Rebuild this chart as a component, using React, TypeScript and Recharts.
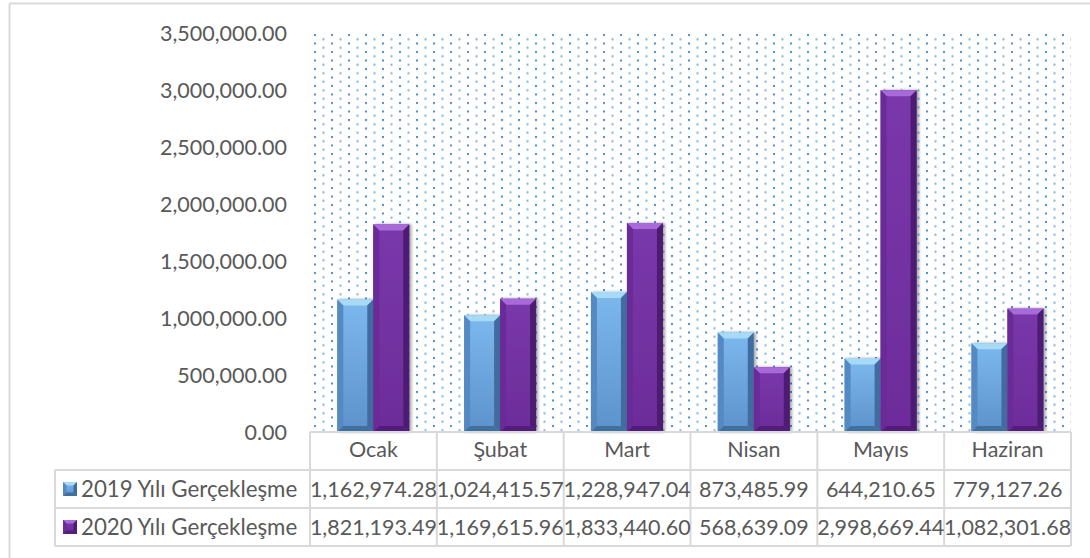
import React from "react";
import { BarChart, Bar, XAxis, YAxis, CartesianGrid } from "recharts";

const months = ["Ocak", "Şubat", "Mart", "Nisan", "Mayıs", "Haziran"];
const values2019 = [1162974.28, 1024415.57, 1228947.04, 873485.99, 644210.65, 779127.26];
const values2020 = [1821193.49, 1169615.96, 1833440.6, 568639.09, 2998669.44, 1082301.68];
const seriesNames = ["2019 Yılı Gerçekleşme", "2020 Yılı Gerçekleşme"];
const yTicks = [0, 500000, 1000000, 1500000, 2000000, 2500000, 3000000, 3500000];

const data = months.map((m, i) => ({ month: m, y2019: values2019[i], y2020: values2020[i] }));

// layout
const W = 1090;
const H = 558;
const PLOT_LEFT = 310;
const PLOT_RIGHT = 1071;
const PLOT_TOP = 33;
const PLOT_BOTTOM = 432;
const ROW_H = 38;
const XAXIS_H = 38;
const FONT = "Lato, 'Open Sans', sans-serif";
const FS = 21.5;
const TEXT = "#595959";
const LINE = "#d9d9d9";

const PALETTES = [
  { top: "#a6daf7", face1: "#7cb8ee", face2: "#5d92cb", left: "#5489c2", right: "#3f6c9e", bottom: "#416f9f" },
  { top: "#a86ad9", face1: "#7a38aa", face2: "#6c2c9a", left: "#6a2c98", right: "#4c1d72", bottom: "#531f7c" },
];

const fmt = (v: number) =>
  v.toLocaleString("en-US", { minimumFractionDigits: 2, maximumFractionDigits: 2 });

function bevel(x: number, y: number, w: number, h: number, p: any, gid: string, b0: number) {
  const b = Math.max(0, Math.min(b0, w / 4, h / 2));
  return (
    <g>
      <rect x={x} y={y} width={w} height={h} fill={`url(#${gid})`} />
      <polygon points={`${x},${y} ${x + w},${y} ${x + w - b},${y + b} ${x + b},${y + b}`} fill={p.top} />
      <polygon points={`${x},${y} ${x + b},${y + b} ${x + b},${y + h - b} ${x},${y + h}`} fill={p.left} />
      <polygon points={`${x + w},${y} ${x + w},${y + h} ${x + w - b},${y + h - b} ${x + w - b},${y + b}`} fill={p.right} />
      <polygon points={`${x},${y + h} ${x + b},${y + h - b} ${x + w - b},${y + h - b} ${x + w},${y + h}`} fill={p.bottom} />
    </g>
  );
}

const makeShape = (idx: number) => (props: any) => {
  const { x, y, width, height } = props;
  if (!height || height <= 0) return <g />;
  return (
    <g filter="url(#barShadow)">{bevel(x, y, width, height, PALETTES[idx], `face${idx}`, 6)}</g>
  );
};

export default function App() {
  const colW = (PLOT_RIGHT - PLOT_LEFT) / months.length;
  const series = [values2019, values2020];

  return (
    <div style={{ position: "relative", width: W, height: H, background: "#fff" }}>
      <style>{`body{margin:0}`}</style>
      <svg width={0} height={0} style={{ position: "absolute" }}>
        <defs>
          <pattern id="dots" patternUnits="userSpaceOnUse" width={17} height={8.5} x={PLOT_LEFT + 4} y={PLOT_TOP + 1}>
            <rect x={0} y={0} width={2} height={2} fill="#4f8fd6" />
            <rect x={8.5} y={4.25} width={2} height={2} fill="#78ade2" />
          </pattern>
          {PALETTES.map((p, i) => (
            <linearGradient key={i} id={`face${i}`} x1="0" y1="0" x2="0" y2="1">
              <stop offset="0%" stopColor={p.face1} />
              <stop offset="100%" stopColor={p.face2} />
            </linearGradient>
          ))}
          <filter id="barShadow" x="-20%" y="-5%" width="150%" height="110%">
            <feDropShadow dx={2} dy={0} stdDeviation={1.5} floodColor="#000" floodOpacity={0.35} />
          </filter>
        </defs>
      </svg>
      <BarChart
        width={W}
        height={H}
        data={data}
        margin={{ top: PLOT_TOP, right: W - PLOT_RIGHT, bottom: H - PLOT_BOTTOM - XAXIS_H, left: 0 }}
        barCategoryGap="21.5%"
        barGap={0}
      >
        <CartesianGrid horizontal={false} vertical={false} fill="url(#dots)" />
        <XAxis
          dataKey="month"
          height={XAXIS_H}
          axisLine={{ stroke: LINE, strokeWidth: 2 }}
          tickLine={false}
          tickSize={0}
          tickMargin={10}
          interval={0}
          tick={{ fill: TEXT, fontSize: FS, fontFamily: FONT }}
        />
        <YAxis
          width={PLOT_LEFT}
          domain={[0, 3500000]}
          ticks={yTicks}
          axisLine={false}
          tickLine={false}
          tickSize={0}
          tickMargin={23}
          tickFormatter={fmt}
          tick={{ fill: TEXT, fontSize: FS, fontFamily: FONT }}
        />
        <Bar dataKey="y2019" name={seriesNames[0]} shape={makeShape(0)} isAnimationActive={false} />
        <Bar dataKey="y2020" name={seriesNames[1]} shape={makeShape(1)} isAnimationActive={false} />
      </BarChart>
      <svg
        width={W}
        height={H}
        style={{ position: "absolute", left: 0, top: 0, pointerEvents: "none" }}
      >
        {/* outer chart border */}
        <line x1={9.5} y1={3.5} x2={W} y2={3.5} stroke={LINE} strokeWidth={2} />
        <line x1={9.5} y1={3.5} x2={9.5} y2={H} stroke={LINE} strokeWidth={2} />
        {/* data table grid */}
        {[0, 1, 2].map((k) => (
          <line
            key={`h${k}`}
            x1={55}
            x2={PLOT_RIGHT}
            y1={470 + k * ROW_H}
            y2={470 + k * ROW_H}
            stroke={LINE}
            strokeWidth={2}
          />
        ))}
        <line x1={55} x2={55} y1={470} y2={470 + 2 * ROW_H} stroke={LINE} strokeWidth={2} />
        {months.map((_, i) => (
          <line
            key={`v${i}`}
            x1={PLOT_LEFT + i * colW}
            x2={PLOT_LEFT + i * colW}
            y1={PLOT_BOTTOM}
            y2={470 + 2 * ROW_H}
            stroke={LINE}
            strokeWidth={2}
          />
        ))}
        <line x1={PLOT_RIGHT} x2={PLOT_RIGHT} y1={PLOT_BOTTOM} y2={470 + 2 * ROW_H} stroke={LINE} strokeWidth={2} />
        {series.map((vals, r) => (
          <g key={`r${r}`}>
            {bevel(63, 482 + r * ROW_H, 14, 14, PALETTES[r], `face${r}`, 4)}
            <text
              x={81}
              y={497 + r * ROW_H}
              fill={TEXT}
              fontSize={22.3}
              fontFamily={FONT}
            >
              {seriesNames[r]}
            </text>
            {vals.map((v, i) => (
              <text
                key={i}
                x={PLOT_LEFT + (i + 0.5) * colW}
                y={497 + r * ROW_H}
                fill={TEXT}
                fontSize={FS}
                fontFamily={FONT}
                textAnchor="middle"
              >
                {fmt(v)}
              </text>
            ))}
          </g>
        ))}
      </svg>
    </div>
  );
}
